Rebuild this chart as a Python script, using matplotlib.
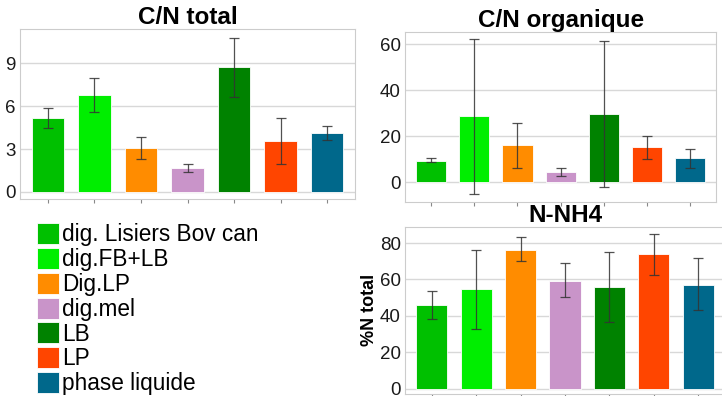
import matplotlib.pyplot as plt
import numpy as np

plt.rcParams['font.family'] = ['Liberation Sans', 'DejaVu Sans']

labels = ["dig. Lisiers Bov can", "dig.FB+LB", "Dig.LP", "dig.mel", "LB", "LP", "phase liquide"]
colors = ["#00C000", "#00EE00", "#FF8C00", "#C994C9", "#008200", "#FF4500", "#00688B"]

cn_total = [5.2, 6.78, 3.08, 1.70, 8.74, 3.59, 4.1]
cn_total_hi = [5.85, 8.0, 3.87, 1.94, 10.8, 5.15, 4.6]
cn_total_lo = [4.5, 5.57, 2.31, 1.4, 6.64, 1.98, 3.6]

cn_org = [9.4, 28.7, 16.3, 4.3, 29.6, 15.2, 10.6]
cn_org_hi = [10.4, 62.4, 25.9, 6.4, 61.4, 20.3, 14.6]
cn_org_lo = [8.7, -5.1, 6.2, 2.7, -2.2, 10.3, 6.2]

nh4 = [45.8, 54.6, 76.4, 59.3, 55.7, 74.0, 57.1]
nh4_hi = [53.8, 76.0, 83.4, 69.1, 75.1, 85.0, 71.6]
nh4_lo = [38.5, 33.0, 69.9, 50.2, 36.4, 62.6, 43.0]


def draw_panel(ax, vals, hi, lo, title, ylim, yticks, title_size=17.5):
    x = np.arange(len(vals))
    vals = np.array(vals)
    err = [vals - np.array(lo), np.array(hi) - vals]
    ax.bar(x, vals, width=0.7, color=colors, edgecolor="white", linewidth=0.6, zorder=2)
    ax.errorbar(x, vals, yerr=err, fmt="none", ecolor="#333333", elinewidth=0.9,
                capsize=3.6, capthick=0.9, alpha=0.85, zorder=3)
    ax.set_xlim(-0.6, 6.6)
    ax.set_ylim(*ylim)
    ax.set_yticks(yticks)
    ax.set_xticks(x)
    ax.set_xticklabels([])
    ax.grid(axis="y", color="#d8d8d8", linewidth=1.0, zorder=0)
    ax.set_axisbelow(True)
    for s in ax.spines.values():
        s.set_color("#cccccc")
    ax.tick_params(axis="y", length=0, labelsize=13.5, pad=3, labelcolor="#1a1a1a")
    ax.tick_params(axis="x", length=3, color="#888888", direction="out")
    ax.set_title(title, fontsize=title_size, fontweight="bold", pad=3)


fig = plt.figure(figsize=(7.22, 3.96), dpi=100)

ax1 = fig.add_axes([0.0277, 0.4975, 0.464, 0.429])
draw_panel(ax1, cn_total, cn_total_hi, cn_total_lo, "C/N total", (-0.5, 11.4), [0, 3, 6, 9])

ax2 = fig.add_axes([0.561, 0.4907, 0.431, 0.429])
draw_panel(ax2, cn_org, cn_org_hi, cn_org_lo, "C/N organique", (-8.4, 65.5), [0, 20, 40, 60])

ax3 = fig.add_axes([0.561, 0.005, 0.443, 0.4225])
draw_panel(ax3, nh4, nh4_hi, nh4_lo, "N-NH4", (-3, 89), [0, 20, 40, 60, 80])
ax3.set_ylabel("%N total", fontsize=13, fontweight="bold", labelpad=1)

# legend in its own empty axes
axl = fig.add_axes([0.045, 0.0, 0.42, 0.448])
axl.axis("off")
handles = [plt.Rectangle((0, 0), 1, 1, facecolor=c, edgecolor="white", linewidth=0.6) for c in colors]
axl.legend(handles, labels, loc="upper left", frameon=False, fontsize=16.3,
           handlelength=0.95, handleheight=1.05, labelspacing=0.07, handletextpad=0.15,
           borderaxespad=0, borderpad=0.2)

fig.savefig("out.png", dpi=100, facecolor="white")
